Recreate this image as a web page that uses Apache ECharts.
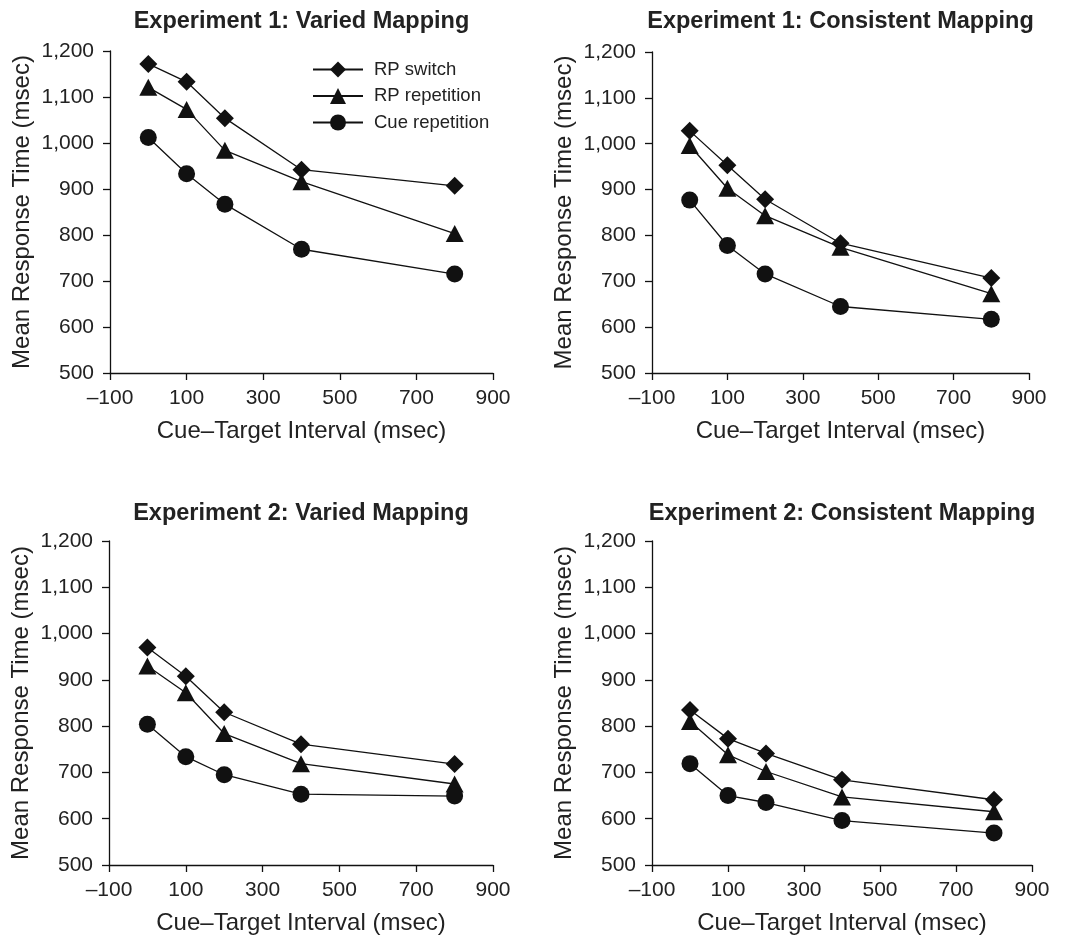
<!DOCTYPE html>
<html>
<head>
<meta charset="utf-8">
<title>Mean Response Time</title>
<script src="https://cdn.jsdelivr.net/npm/echarts@6/dist/echarts.min.js"></script>
<style>
  html, body { margin: 0; padding: 0; background: #fff; }
  #chart { width: 1066px; height: 938px; }
</style>
</head>
<body>
<div id="chart"></div>
<script>
  // cue-target intervals (msec)
  const intervals = [0, 100, 200, 400, 800]
  const seriesNames = ['RP switch', 'RP repetition', 'Cue repetition']
  const panelTitles = [
    'Experiment 1: Varied Mapping',
    'Experiment 1: Consistent Mapping',
    'Experiment 2: Varied Mapping',
    'Experiment 2: Consistent Mapping'
  ]
  const xTicks = [-100, 100, 300, 500, 700, 900]
  const yTicks = [500, 600, 700, 800, 900, 1000, 1100, 1200]

  // mean response times (msec)
  const exp1VmSwitch = [1172, 1133, 1054, 942, 907]
  const exp1VmRepetition = [1121, 1073, 984, 916, 803]
  const exp1VmCue = [1012, 933, 867, 769, 715]
  const exp1CmSwitch = [1028, 953, 879, 783, 707]
  const exp1CmRepetition = [996, 903, 843, 774, 673]
  const exp1CmCue = [877, 778, 716, 645, 617]
  const exp2VmSwitch = [970, 908, 830, 761, 718]
  const exp2VmRepetition = [930, 872, 784, 719, 675]
  const exp2VmCue = [804, 734, 695, 653, 649]
  const exp2CmSwitch = [835, 773, 741, 684, 641]
  const exp2CmRepetition = [810, 738, 702, 647, 615]
  const exp2CmCue = [719, 650, 635, 596, 569]

  const panelData = [
    [exp1VmSwitch, exp1VmRepetition, exp1VmCue],
    [exp1CmSwitch, exp1CmRepetition, exp1CmCue],
    [exp2VmSwitch, exp2VmRepetition, exp2VmCue],
    [exp2CmSwitch, exp2CmRepetition, exp2CmCue]
  ]

  const font = '"Liberation Sans", Arial, Helvetica, sans-serif'
  const ink = '#111'
  const textColor = '#222'
  const symbols = ['diamond', 'triangle', 'circle']
  const symbolSizes = [18, [18, 17], 17]

  // plot areas in px
  const grids = [
    { left: 110, top: 51, width: 383, height: 322 },
    { left: 652, top: 52, width: 377, height: 321 },
    { left: 109, top: 541, width: 384, height: 324 },
    { left: 652, top: 541, width: 380, height: 324 }
  ]
  const titleTops = [10, 10, 502, 502]

  const myChart = echarts.init(document.getElementById('chart'))

  let titles = []
  let xAxes = []
  let yAxes = []
  let seriesData = []

  grids.map((g, i) => {
    titles.push({
      text: panelTitles[i],
      left: g.left + g.width / 2,
      top: titleTops[i],
      textAlign: 'center',
      padding: 0,
      textStyle: {
        fontFamily: font,
        fontSize: 23.5,
        fontWeight: 'bold',
        color: textColor
      }
    })
    xAxes.push({
      type: 'value',
      gridIndex: i,
      min: xTicks[0],
      max: xTicks[xTicks.length - 1],
      interval: 200,
      name: 'Cue\u2013Target Interval (msec)',
      nameLocation: 'middle',
      nameGap: 46,
      nameTextStyle: { fontFamily: font, fontSize: 24, color: textColor },
      axisLine: { onZero: false, lineStyle: { color: ink, width: 1.3 } },
      axisTick: { length: 7, lineStyle: { color: ink, width: 1.3 } },
      axisLabel: {
        margin: 15,
        fontFamily: font,
        fontSize: 21,
        color: textColor,
        formatter: (v) => (v < 0 ? '\u2013' + Math.abs(v) : String(v))
      },
      splitLine: { show: false }
    })
    yAxes.push({
      type: 'value',
      gridIndex: i,
      min: yTicks[0],
      max: yTicks[yTicks.length - 1],
      interval: 100,
      name: 'Mean Response Time (msec)',
      nameLocation: 'middle',
      nameGap: 76,
      nameTextStyle: { fontFamily: font, fontSize: 24, color: textColor },
      axisLine: { show: true, onZero: false, lineStyle: { color: ink, width: 1.3 } },
      axisTick: { show: true, length: 7, lineStyle: { color: ink, width: 1.3 } },
      axisLabel: {
        margin: 16,
        fontFamily: font,
        fontSize: 21,
        color: textColor,
        formatter: (v) => v.toLocaleString('en-US')
      },
      splitLine: { show: false }
    })
    panelData[i].map((values, k) => {
      seriesData.push({
        name: seriesNames[k],
        type: 'line',
        xAxisIndex: i,
        yAxisIndex: i,
        symbol: symbols[k],
        symbolSize: symbolSizes[k],
        showAllSymbol: true,
        lineStyle: { color: ink, width: 1.3 },
        itemStyle: { color: ink },
        emphasis: { disabled: true },
        data: intervals.map((t, j) => [t, values[j]])
      })
    })
  })

  myChart.setOption({
    animation: false,
    backgroundColor: '#fff',
    title: titles,
    legend: {
      data: seriesNames,
      orient: 'vertical',
      left: 312,
      top: 60,
      padding: 0,
      itemWidth: 50,
      itemHeight: 20,
      itemGap: 7.5,
      selectedMode: false,
      textStyle: {
        fontFamily: font,
        fontSize: 18.5,
        color: textColor,
        padding: [0, 0, 0, 6]
      }
    },
    grid: grids,
    xAxis: xAxes,
    yAxis: yAxes,
    series: seriesData
  })

  window.addEventListener('resize', () => {
    myChart && myChart.resize()
  })
</script>
</body>
</html>
